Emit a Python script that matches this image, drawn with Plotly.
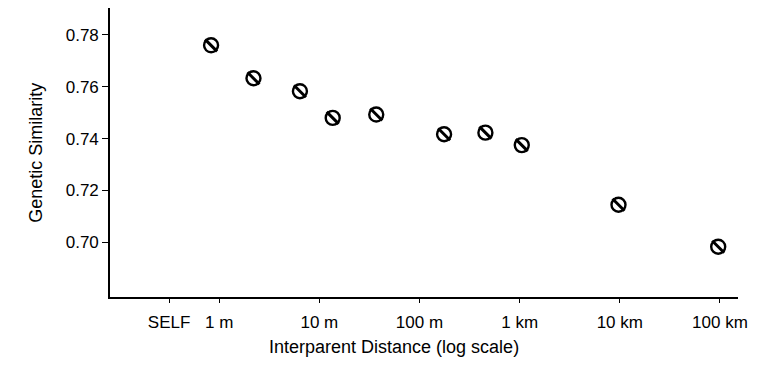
import plotly.graph_objects as go

# Data (distance in metres, genetic similarity)
distance_m = [0.83, 2.2, 6.4, 13.6, 37, 176, 455, 1050, 9700, 96000]
similarity = [0.776, 0.7633, 0.7583, 0.748, 0.7493, 0.7417, 0.7423, 0.7375, 0.7145, 0.6983]

x_tick_vals = [0.316, 1, 10, 100, 1000, 10000, 100000]
x_tick_text = ["SELF", "1 m", "10 m", "100 m", "1 km", "10 km", "100 km"]
y_tick_vals = [0.70, 0.72, 0.74, 0.76, 0.78]
y_tick_text = ["0.70", "0.72", "0.74", "0.76", "0.78"]

FONT = "Liberation Sans, Arial, Helvetica, sans-serif"

fig = go.Figure()
# ring
fig.add_trace(go.Scatter(
    x=distance_m, y=similarity, mode="markers",
    marker=dict(symbol="circle", size=14, color="white",
                line=dict(color="black", width=2.4)),
    hoverinfo="skip", showlegend=False))
# hatch stripe
fig.add_trace(go.Scatter(
    x=distance_m, y=similarity, mode="markers",
    marker=dict(symbol="line-nw", size=12,
                line=dict(color="black", width=3)),
    hoverinfo="skip", showlegend=False))

# page has an 8px body margin, so the figure is drawn 8px smaller
fig.update_layout(
    width=763, height=369,
    margin=dict(l=102, r=33, t=0, b=80),
    paper_bgcolor="white", plot_bgcolor="white",
    font=dict(family=FONT, size=17, color="black"),
    xaxis=dict(type="log", range=[-1.09, 5.18],
               tickvals=x_tick_vals, ticktext=x_tick_text,
               ticks="outside", ticklen=4, tickwidth=1.2, tickcolor="black",
               ticklabelstandoff=5,
               showline=True, linecolor="black", linewidth=1.6,
               showgrid=False, zeroline=False),
    yaxis=dict(range=[0.6789, 0.7904],
               tickvals=y_tick_vals, ticktext=y_tick_text,
               ticks="outside", ticklen=6, tickwidth=1.2, tickcolor="black",
               showline=True, linecolor="black", linewidth=1.6,
               showgrid=False, zeroline=False),
    annotations=[
        dict(text="Interparent Distance (log scale)", xref="paper", yref="paper",
             x=0.452, y=-0.173, xanchor="center", yanchor="middle",
             showarrow=False, font=dict(size=18)),
        dict(text="Genetic Similarity", xref="paper", yref="paper",
             x=-0.119, y=0.5, xanchor="center", yanchor="middle",
             textangle=-90, showarrow=False, font=dict(size=18)),
    ],
)

fig.write_html("out.html")
